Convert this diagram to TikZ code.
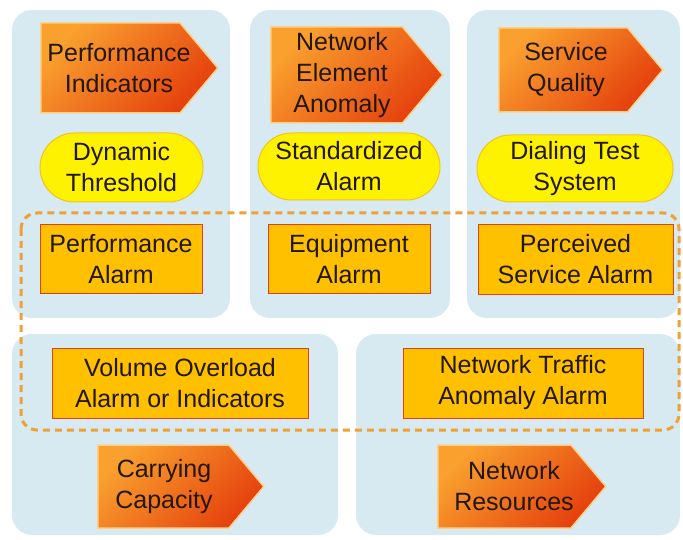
\documentclass[tikz,border=0pt]{standalone}
\usepackage{fontspec}
\setmainfont{Liberation Sans}
\usetikzlibrary{shapes.symbols, shapes.misc, positioning}
\definecolor{panelblue}{HTML}{D7EAF2}
\definecolor{alarmfill}{HTML}{FFC000}
\definecolor{alarmline}{HTML}{E2401C}
\definecolor{ovalfill}{HTML}{FFF200}
\definecolor{ovalline}{HTML}{F2C21E}
\definecolor{arrowlight}{HTML}{F9A02E}
\definecolor{arrowdark}{HTML}{E5400D}
\definecolor{arrowedge}{HTML}{FCD08A}
\definecolor{dashorange}{HTML}{F0A035}
\definecolor{inkbrown}{HTML}{22170A}

\begin{document}
\begin{tikzpicture}[x=1pt, y=-1pt, font=\fontsize{25}{31}\selectfont]
 % Styles for the panels, the source arrows, the ovals and the alarm boxes
 \tikzset{
panel/.style = {fill=panelblue, rounded corners=20pt},
source/.style = {signal, signal to=east, signal pointer angle=100, draw=arrowedge, line width=1.5pt, left color=arrowlight, right color=arrowdark, shading angle=45, anchor=west, inner sep=0pt},
sourcetext/.style = {text=inkbrown, align=center, inner sep=0pt},
oval/.style = {rounded rectangle, draw=ovalline, line width=1pt, fill=ovalfill, text=inkbrown, align=center, inner sep=0pt},
alarm/.style = {rectangle, draw=alarmline, line width=1pt, fill=alarmfill, text=inkbrown, align=center, inner sep=0pt},
group/.style = {draw=dashorange, line width=3pt, dash pattern=on 7pt off 5pt, rounded corners=16pt},
}
 \useasboundingbox (0,0) rectangle (683,540);

 % Light blue panels
 \fill [panel] (12,10) rectangle (230,318);
 \fill [panel] (250,10) rectangle (450,318);
 \fill [panel] (467,10) rectangle (680,318);
 \fill [panel] (12,334) rectangle (338,535);
 \fill [panel] (356,334) rectangle (680,535);

 % Dashed frame round the alarms
 \draw [group] (21,213) rectangle (679,430);

 % Top row: sources
 \node [source, minimum width=177, minimum height=90] (perfind) at (40,68) {};
 \node [sourcetext, right=79pt of perfind.west, anchor=center] (perfindtext) {Performance\\Indicators};
 \node [source, minimum width=172, minimum height=96] (neanomaly) at (270,75) {};
 \node [sourcetext, right=72pt of neanomaly.west, anchor=center] (neanomalytext) {Network\\Element\\Anomaly};
 \node [source, minimum width=164, minimum height=84] (servqual) at (498,70) {};
 \node [sourcetext, right=68pt of servqual.west, anchor=center] (servqualtext) {Service\\Quality};

 % Ovals
 \node [oval, minimum width=163, minimum height=69] (dynthresh) at (121.5,167.5) {Dynamic\\Threshold};
 \node [oval, minimum width=182, minimum height=67] (stdalarm) at (349,166.5) {Standardized\\Alarm};
 \node [oval, minimum width=196, minimum height=67] (dialtest) at (575,168.5) {Dialing Test\\System};

 % Alarms
 \node [alarm, minimum width=162, minimum height=68] (perfalarm) at (121,259) {Performance\\Alarm};
 \node [alarm, minimum width=162, minimum height=68] (equipalarm) at (349,259) {Equipment\\Alarm};
 \node [alarm, minimum width=195, minimum height=69] (servalarm) at (575.5,259.5) {Perceived\\Service Alarm};
 \node [alarm, minimum width=256, minimum height=70] (volalarm) at (180,383) {Volume Overload\\Alarm or Indicators};
 \node [alarm, minimum width=240, minimum height=70] (trafalarm) at (523,383) {Network Traffic\\Anomaly Alarm};

 % Bottom row: sources
 \node [source, minimum width=166, minimum height=83] (capacity) at (97,486.5) {};
 \node [sourcetext, right=67pt of capacity.west, anchor=center] (capacitytext) {Carrying\\Capacity};
 \node [source, minimum width=168, minimum height=83] (resources) at (437,486.5) {};
 \node [sourcetext, right=77pt of resources.west, anchor=center] (resourcestext) {Network\\Resources};

\end{tikzpicture}
\end{document}
